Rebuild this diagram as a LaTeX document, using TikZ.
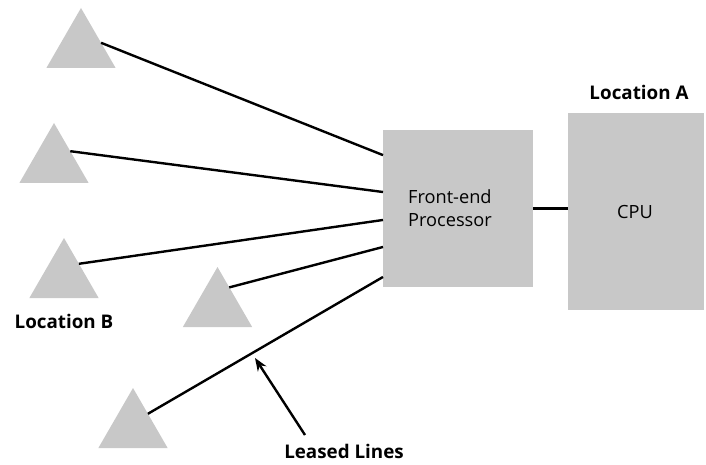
\documentclass[tikz,border=0pt]{standalone}
\usepackage{fontspec}
\setmainfont{Open Sans}
\usetikzlibrary{shapes.geometric,arrows.meta,calc}
\definecolor{boxgray}{HTML}{C8C8C8}
\tikzset{
  site/.style={regular polygon, regular polygon sides=3, minimum size=80pt, inner sep=0pt, outer sep=0pt, fill=boxgray, draw=none},
  unit/.style={rectangle, fill=boxgray, draw=none, inner sep=0pt, outer sep=0pt},
  wire/.style={line width=2.4pt, black},
  lbl/.style={font=\bfseries\fontsize{18.8}{20}\selectfont, inner sep=0pt},
  txt/.style={font=\fontsize{18.2}{23.5}\selectfont, inner sep=0pt, align=left}
}
\begin{document}
\begin{tikzpicture}[x=1pt,y=-1pt]
\useasboundingbox (0,0) rectangle (706,465);
% triangles
\node[site] (t1) at (81,48) {};
\node[site] (t2) at (54,163) {};
\node[site] (t3) at (64,278) {};
\node[site] (t4) at (217.5,307) {};
\node[site] (t5) at (133,428) {};
% boxes
\node[unit, minimum width=150pt, minimum height=157pt] (fep) at (458,208.5) {};
\node[unit, minimum width=136pt, minimum height=197pt] (cpu) at (636,211.5) {};
\node[txt] (fept) at (450,208) {Front-end\\Processor};
\node[txt] (cput) at (635,212) {CPU};
% labels
\node[lbl, anchor=base] (la) at (639,100) {Location A};
\node[lbl, anchor=base] (lb) at (64,328) {Location B};
\node[lbl, anchor=base] (ll) at (344,458) {Leased Lines};
% connectors
\draw[wire] ($(t1.corner 1)!0.58!(t1.corner 3)$) -- ($(fep.north west)!0.16!(fep.south west)$);
\draw[wire] ($(t2.corner 1)!0.47!(t2.corner 3)$) -- ($(fep.north west)!0.395!(fep.south west)$);
\draw[wire] ($(t3.corner 1)!0.43!(t3.corner 3)$) -- ($(fep.north west)!0.573!(fep.south west)$);
\draw[wire] ($(t4.corner 1)!0.34!(t4.corner 3)$) -- ($(fep.north west)!0.745!(fep.south west)$);
\draw[wire] ($(t5.corner 1)!0.43!(t5.corner 3)$) -- ($(fep.north west)!0.936!(fep.south west)$);
\draw[wire] (fep.east) -- (fep.east -| cpu.west);
% arrow
\coordinate (tip) at (255,358);
\coordinate (tail) at (305,435);
\draw[wire, -{Stealth[length=13pt,width=10pt]}] (tail) -- (tip);
\end{tikzpicture}
\end{document}
